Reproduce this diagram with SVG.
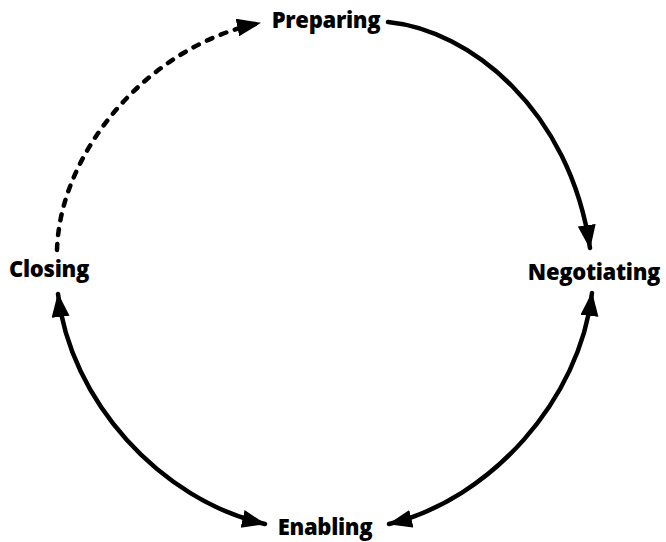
<svg xmlns="http://www.w3.org/2000/svg" width="666" height="542" viewBox="0 0 666 542">
<style>
text{font-family:"Open Sans","Liberation Sans",sans-serif;font-weight:800;font-size:22px;fill:#000;text-anchor:middle;letter-spacing:-0.3px}
.c{fill:none;stroke:#000;stroke-width:4.5;stroke-linecap:round}
.d{stroke-dasharray:6 9}
</style>
<defs>
<marker id="ah" markerUnits="userSpaceOnUse" markerWidth="26" markerHeight="20" refX="23" refY="9" orient="auto-start-reverse">
<path d="M0,0 L24,9 L0,18 z" fill="#000"/>
</marker>
</defs>
<rect width="666" height="542" fill="#fff"/>
<g id="connectors">
<path class="c" d="M388,22 C470,30 570,110 590,248" marker-end="url(#ah)"/>
<path class="c d" d="M57,250 C60,150 150,45 260,23" marker-end="url(#ah)"/>
<path class="c" d="M58,294 C70,400 160,500 265,524" marker-start="url(#ah)" marker-end="url(#ah)"/>
<path class="c" d="M592,293 C580,400 490,500 389,524" marker-start="url(#ah)" marker-end="url(#ah)"/>
</g>
<g id="preparing"><text x="326" y="28">Preparing</text></g>
<g id="negotiating"><text x="594" y="280">Negotiating</text></g>
<g id="enabling"><text x="325" y="535">Enabling</text></g>
<g id="closing"><text x="49" y="277">Closing</text></g>
</svg>
